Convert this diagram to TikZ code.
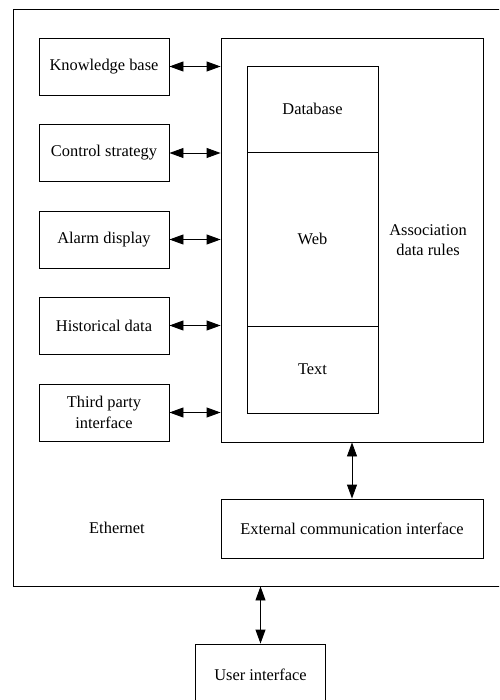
\documentclass[tikz,border=0pt]{standalone}
\usepackage{fontspec}
\setmainfont{Liberation Serif}
\usetikzlibrary{arrows.meta}

\tikzset{
	blk/.style={draw, line width=0.9pt, minimum width=130pt, minimum height=57pt, align=center, inner sep=2pt},
	biarrow/.style={{Triangle[length=14pt,width=10pt]}-{Triangle[length=14pt,width=10pt]}, line width=0.9pt}
}

\begin{document}
\begin{tikzpicture}[x=1pt, y=-1pt, font=\fontsize{16.4pt}{20.5pt}\selectfont]
		
		\useasboundingbox (0,0) rectangle (499,700);
		\clip (0,0) rectangle (499,700);
		\fill[white] (0,0) rectangle (499,700);
		
		\node[blk, minimum width=497pt, minimum height=577pt] (lan) at (261.5,297.5) {};
		
		\node[blk] (kb) at (104,66.5) {Knowledge base};
		\node[blk] (ctrl) at (104,153) {Control strategy};
		\node[blk] (alarm) at (104,239.5) {Alarm display};
		\node[blk] (hist) at (104,325.5) {Historical data};
		\node[blk] (third) at (104,412.5) {Third party\\interface};
		
		\node[blk, minimum width=262pt, minimum height=404pt] (assoc) at (352,240) {};
		\node[blk, minimum width=131pt, minimum height=86pt] (db) at (312.5,109) {Database};
		\node[blk, minimum width=131pt, minimum height=174pt] (web) at (312.5,239) {Web};
		\node[blk, minimum width=131pt, minimum height=87pt] (txt) at (312.5,369.5) {Text};
		\node[align=center] (rules) at (428,240) {Association\\data rules};
		
		\node[blk, minimum width=262pt, minimum height=59pt] (ext) at (352,528.5) {External communication interface};
		\node (eth) at (117,528) {Ethernet};
		\node[blk, minimum height=62pt] (user) at (260.5,675) {User interface};
		
		\draw[biarrow] (kb.east) -- (kb.east -| assoc.west);
		\draw[biarrow] (ctrl.east) -- (ctrl.east -| assoc.west);
		\draw[biarrow] (alarm.east) -- (alarm.east -| assoc.west);
		\draw[biarrow] (hist.east) -- (hist.east -| assoc.west);
		\draw[biarrow] (third.east) -- (third.east -| assoc.west);
		\draw[biarrow] (assoc.south) -- (ext.north);
		\draw[biarrow] (user.north |- lan.south) -- (user.north);
		
\end{tikzpicture}
\end{document}
